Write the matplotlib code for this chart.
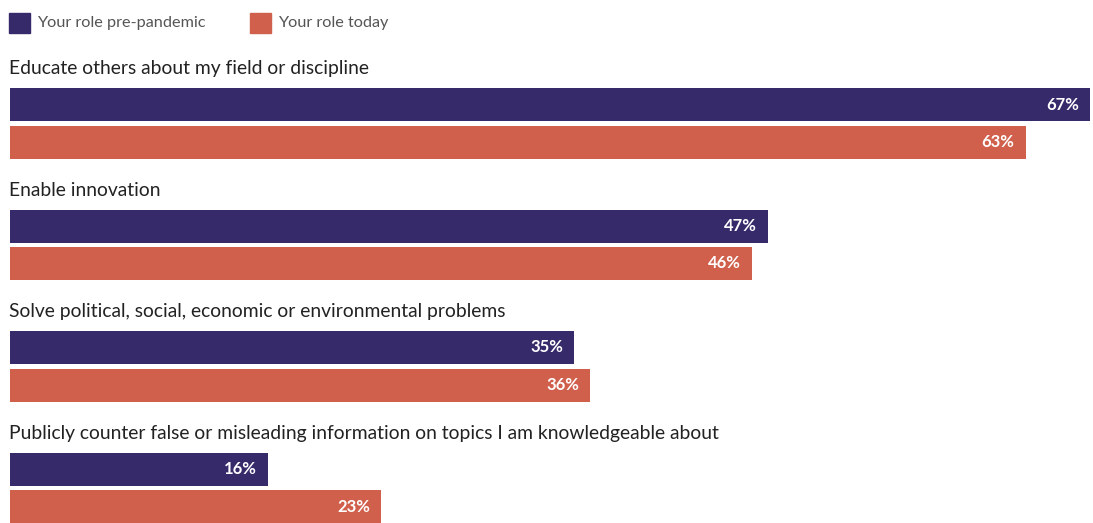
import numpy as np
import matplotlib.pyplot as plt
from matplotlib.patches import Rectangle

categories = [
    "Educate others about my field or discipline",
    "Enable innovation",
    "Solve political, social, economic or environmental problems",
    "Publicly counter false or misleading information on topics I am knowledgeable about",
]
pre_pandemic = [67, 47, 35, 16]
today = [63, 46, 36, 23]
series_names = ["Your role pre-pandemic", "Your role today"]

PURPLE = "#372a6b"
ORANGE = "#d0604c"
FONT = "Lato"

W, H = 1093, 523
fig = plt.figure(figsize=(W / 100, H / 100), dpi=100)

# axes in pixel-like units: y grows downward, x maps percentages
ax = fig.add_axes([0, 0, 1, 1])
px_per_pct = 16.12
x0 = 10
ax.set_xlim(-x0 / px_per_pct, (W - x0) / px_per_pct)
ax.set_ylim(H, 0)
ax.axis("off")

group_gap = 121.5
first_bar = 104.5
bar_h = 33
pair_gap = 37.5
label_pad = 11 / px_per_pct

for i, (cat, a, b) in enumerate(zip(categories, pre_pandemic, today)):
    yc = first_bar + group_gap * i
    ax.barh(yc, a, height=bar_h, color=PURPLE, left=0)
    ax.barh(yc + pair_gap, b, height=bar_h, color=ORANGE, left=0)
    ax.text(-1 / px_per_pct, yc - 36, cat, ha="left", va="center",
            fontsize=13.9, color="#222222", family=FONT)
    ax.text(a - label_pad, yc, f"{a}%", ha="right", va="center", fontsize=12,
            color="white", fontweight="bold", family=FONT)
    ax.text(b - label_pad, yc + pair_gap, f"{b}%", ha="right", va="center",
            fontsize=12, color="white", fontweight="bold", family=FONT)

# legend
for name, color, lx in zip(series_names, [PURPLE, ORANGE], [9, 250]):
    fig.patches.append(Rectangle((lx / W, 1 - 33 / H), 21 / W, 20 / H,
                                 transform=fig.transFigure, color=color))
    fig.text((lx + 28) / W, 1 - 23 / H, name, ha="left", va="center",
             fontsize=11.7, color="#555555", family=FONT)

fig.savefig("out.png", dpi=100)
